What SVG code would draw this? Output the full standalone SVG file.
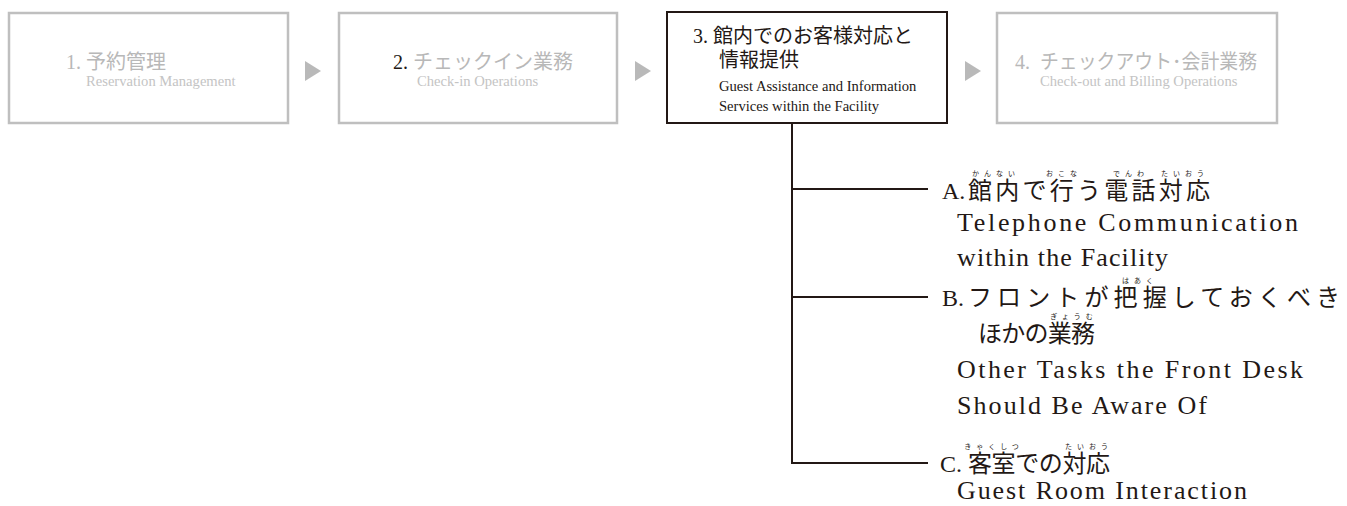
<svg xmlns="http://www.w3.org/2000/svg" width="1347" height="506" viewBox="0 0 1347 506">
<style>
.bg{fill:#ffffff}
.gbox{fill:#ffffff;stroke:#bfbfbf;stroke-width:2.5}
.kbox{fill:#ffffff;stroke:#231815;stroke-width:2}
.tri{fill:#b9b9b9}
.line{fill:none;stroke:#231815;stroke-width:2}
.t{font-family:"Liberation Serif","Noto Sans CJK JP",serif}
.gh{font-size:20px;fill:#b8b8b8}
.ge{font-size:14.6px;fill:#c4c4c4}
.kh{font-size:20px;fill:#231815}
.ke{font-size:14.6px;fill:#231815}
.h{font-size:24px;fill:#231815}
.e{font-size:26px;fill:#231815}
.r{font-size:7px;fill:#231815;letter-spacing:5px;text-anchor:middle}
</style>
<rect class="bg" x="0" y="0" width="1347" height="506"/>
<g id="connectors">
<polygon class="tri" points="305,61 321,71 305,81"/>
<polygon class="tri" points="635,61 651,71 635,81"/>
<polygon class="tri" points="965,61 981,71 965,81"/>
<path class="line" d="M792,123 V463 H928 M792,189 H928 M792,297 H928"/>
</g>
<g id="step1">
<rect class="gbox" x="9" y="13" width="279" height="110"/>
<text class="t gh" x="66" y="69">1. 予約管理</text>
<text class="t ge" x="86" y="86">Reservation Management</text>
</g>
<g id="step2">
<rect class="gbox" x="339" y="13" width="278" height="110"/>
<text class="t gh" x="393" y="69"><tspan fill="#231815">2.</tspan> チェックイン業務</text>
<text class="t ge" x="417" y="86">Check-in Operations</text>
</g>
<g id="step3">
<rect class="kbox" x="667" y="12" width="280" height="111"/>
<text class="t kh" x="693" y="43">3. 館内でのお客様対応と</text>
<text class="t kh" x="719" y="67">情報提供</text>
<text class="t ke" x="719" y="91">Guest Assistance and Information</text>
<text class="t ke" x="719" y="111">Services within the Facility</text>
</g>
<g id="step4">
<rect class="gbox" x="997" y="13" width="280" height="110"/>
<text class="t gh" x="1015" y="69">4.</text>
<text class="t gh" x="1040" y="69" textLength="217" lengthAdjust="spacingAndGlyphs">チェックアウト･会計業務</text>
<text class="t ge" x="1040" y="86">Check-out and Billing Operations</text>
</g>
<g id="itemA">
<text class="t h" x="942" y="199">A.</text>
<text class="t h" x="968" y="199" textLength="242" lengthAdjust="spacing">館内で行う電話対応</text>
<text class="t r" x="996" y="176">かんない</text>
<text class="t r" x="1064" y="176">おこな</text>
<text class="t r" x="1131" y="176">でんわ</text>
<text class="t r" x="1185" y="176">たいおう</text>
<text class="t e" x="957" y="231" textLength="341" lengthAdjust="spacing">Telephone Communication</text>
<text class="t e" x="957" y="266" textLength="211" lengthAdjust="spacing">within the Facility</text>
</g>
<g id="itemB">
<text class="t h" x="942" y="306">B.</text>
<text class="t h" x="968" y="306" textLength="372" lengthAdjust="spacing">フロントが把握しておくべき</text>
<text class="t r" x="1140" y="283">はあく</text>
<text class="t h" x="978" y="342" textLength="117" lengthAdjust="spacing">ほかの業務</text>
<text class="t r" x="1074" y="319">ぎょうむ</text>
<text class="t e" x="957" y="378" textLength="346" lengthAdjust="spacing">Other Tasks the Front Desk</text>
<text class="t e" x="957" y="414" textLength="250" lengthAdjust="spacing">Should Be Aware Of</text>
</g>
<g id="itemC">
<text class="t h" x="940" y="472">C.</text>
<text class="t h" x="968" y="472" textLength="142" lengthAdjust="spacing">客室での対応</text>
<text class="t r" x="994" y="449">きゃくしつ</text>
<text class="t r" x="1089" y="449">たいおう</text>
<text class="t e" x="957" y="499" textLength="290" lengthAdjust="spacing">Guest Room Interaction</text>
</g>
</svg>
